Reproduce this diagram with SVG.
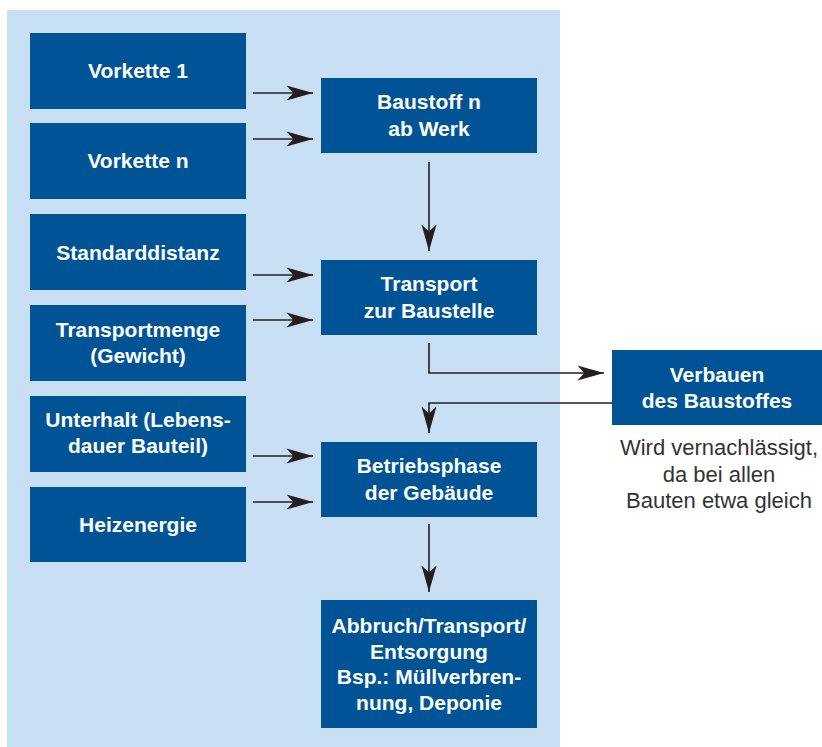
<svg xmlns="http://www.w3.org/2000/svg" width="822" height="747" viewBox="0 0 822 747">
<style>
.box{fill:#005496}
.bt{font-family:"Liberation Sans",Arial,sans-serif;font-weight:bold;font-size:21px;fill:#ffffff;text-anchor:middle}
.note{font-family:"Liberation Sans",Arial,sans-serif;font-size:22px;fill:#333333;text-anchor:middle}
.con{fill:none;stroke:#231f20;stroke-width:1.6}
</style>
<defs>
<marker id="ah" markerUnits="userSpaceOnUse" markerWidth="30" markerHeight="20" viewBox="-24 -8 26 16" refX="0" refY="0" orient="auto">
<path d="M0,0 L-23,-6.5 L-17,0 L-23,6.5 Z" fill="#231f20"/>
</marker>
</defs>
<rect x="0" y="0" width="822" height="747" fill="#ffffff"/>
<rect id="panel" x="7" y="10" width="553" height="737" fill="#c8dff4"/>
<g id="vorkette1"><rect class="box" x="30" y="33" width="216" height="76"/><text class="bt" x="138" y="78">Vorkette 1</text></g>
<g id="vorketten"><rect class="box" x="30" y="123" width="216" height="76"/><text class="bt" x="138" y="168">Vorkette n</text></g>
<g id="standarddistanz"><rect class="box" x="30" y="214" width="216" height="76"/><text class="bt" x="138" y="260">Standarddistanz</text></g>
<g id="transportmenge"><rect class="box" x="30" y="305" width="216" height="76"/><text class="bt" x="138" y="337">Transportmenge</text><text class="bt" x="138" y="363">(Gewicht)</text></g>
<g id="unterhalt"><rect class="box" x="30" y="396" width="216" height="76"/><text class="bt" x="138" y="427">Unterhalt (Lebens-</text><text class="bt" x="138" y="453">dauer Bauteil)</text></g>
<g id="heizenergie"><rect class="box" x="30" y="487" width="216" height="75"/><text class="bt" x="138" y="532">Heizenergie</text></g>
<g id="baustoff"><rect class="box" x="321" y="78" width="216" height="75"/><text class="bt" x="429" y="109">Baustoff n</text><text class="bt" x="429" y="136">ab Werk</text></g>
<g id="transport"><rect class="box" x="321" y="260" width="216" height="75"/><text class="bt" x="429" y="291">Transport</text><text class="bt" x="429" y="318">zur Baustelle</text></g>
<g id="betriebsphase"><rect class="box" x="321" y="442" width="216" height="75"/><text class="bt" x="429" y="473">Betriebsphase</text><text class="bt" x="429" y="500">der Gebäude</text></g>
<g id="abbruch"><rect class="box" x="321" y="600" width="216" height="128"/><text class="bt" x="429" y="633">Abbruch/Transport/</text><text class="bt" x="429" y="659">Entsorgung</text><text class="bt" x="429" y="684">Bsp.: Müllverbren-</text><text class="bt" x="429" y="710">nung, Deponie</text></g>
<g id="verbauen"><rect class="box" x="612" y="350" width="210" height="75"/><text class="bt" x="717" y="382">Verbauen</text><text class="bt" x="717" y="408">des Baustoffes</text></g>
<g id="note"><text class="note" x="719" y="455">Wird vernachlässigt,</text><text class="note" x="719" y="482">da bei allen</text><text class="note" x="719" y="508">Bauten etwa gleich</text></g>
<g id="connectors">
<path class="con" d="M253,93 H313" marker-end="url(#ah)"/>
<path class="con" d="M253,139 H313" marker-end="url(#ah)"/>
<path class="con" d="M253,275 H313" marker-end="url(#ah)"/>
<path class="con" d="M253,320 H313" marker-end="url(#ah)"/>
<path class="con" d="M253,456 H313" marker-end="url(#ah)"/>
<path class="con" d="M253,502 H313" marker-end="url(#ah)"/>
<path class="con" d="M429,162 V251" marker-end="url(#ah)"/>
<path class="con" d="M429,524 V592" marker-end="url(#ah)"/>
<path class="con" d="M429,343 V373 H604" marker-end="url(#ah)"/>
<path class="con" d="M612,403 H429 V433" marker-end="url(#ah)"/>
</g>
</svg>
